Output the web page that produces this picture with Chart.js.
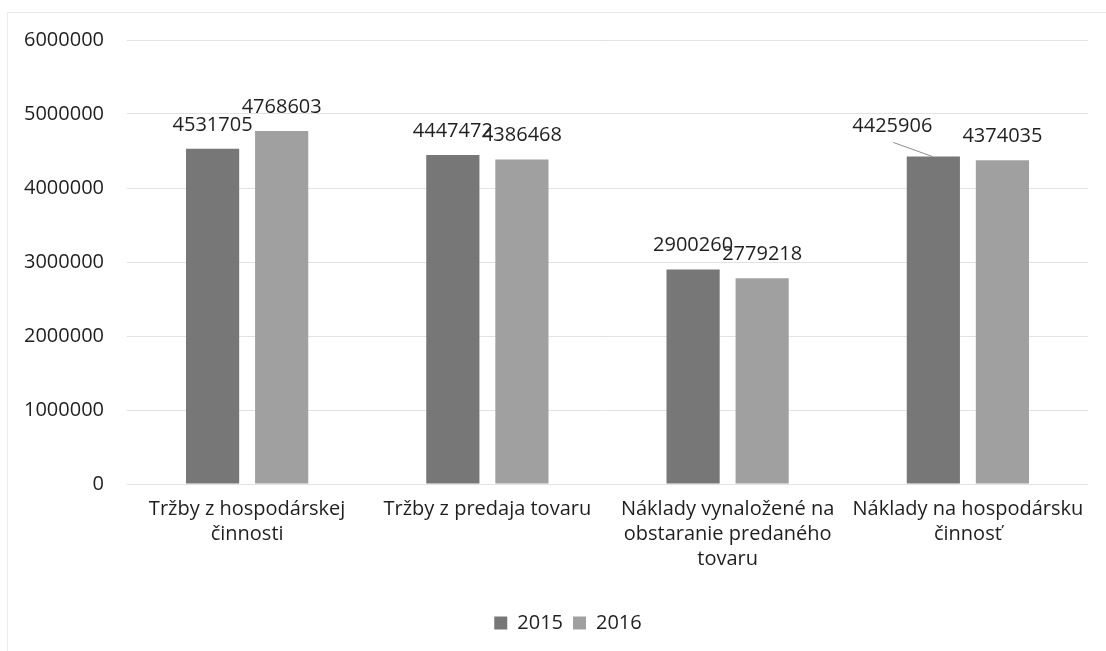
<!DOCTYPE html>
<html lang="sk">
<head>
<meta charset="UTF-8">
<title>Tržby a náklady 2015 - 2016</title>
<script src="https://cdn.jsdelivr.net/npm/chart.js@4.4.1/dist/chart.umd.min.js"></script>
<style>
    body { margin: 0; background: #fff; }
    .wrap { position: relative; width: 1106px; height: 651px; overflow: hidden; }
    .frame {
        position: absolute; left: 7px; top: 12px; right: -2px; bottom: -2px;
        border-left: 1px solid #ececec; border-top: 1px solid #e6e6e6;
        pointer-events: none;
    }
    canvas { position: absolute; left: 0; top: 0; }
</style>
</head>
<body>
<div class="wrap">
    <canvas id="costChart" width="1106" height="651"></canvas>
    <div class="frame"></div>
</div>
<script>
// Chart data
const categories = [
    ['Tržby z hospodárskej', 'činnosti'],
    'Tržby z predaja tovaru',
    ['Náklady vynaložené na', 'obstaranie predaného', 'tovaru'],
    ['Náklady na hospodársku', 'činnosť']
];
const seriesNames = ['2015', '2016'];
const values2015 = [4531705, 4447472, 2900260, 4425906];
const values2016 = [4768603, 4386468, 2779218, 4374035];
const yTicks = [0, 1000000, 2000000, 3000000, 4000000, 5000000, 6000000];

const FONT = '"Open Sans", "Noto Sans", sans-serif';
const TEXT_COLOR = '#1f1f1f';

// Value labels above bars (one label is pulled aside with a leader line, like in Excel)
const valueLabels = {
    id: 'valueLabels',
    afterDatasetsDraw(chart, args, opts) {
        const ctx = chart.ctx;
        ctx.save();
        ctx.font = '20px ' + FONT;
        ctx.fillStyle = TEXT_COLOR;
        ctx.textAlign = 'center';
        ctx.textBaseline = 'alphabetic';
        chart.data.datasets.forEach((ds, di) => {
            chart.getDatasetMeta(di).data.forEach((bar, i) => {
                let x = bar.x;
                let y = bar.y - opts.gap;
                const moved = opts.moved.find(m => m.dataset === di && m.index === i);
                if (moved) {
                    x += moved.dx;
                    y += moved.dy;
                    ctx.strokeStyle = '#8c8c8c';
                    ctx.lineWidth = 1;
                    ctx.beginPath();
                    ctx.moveTo(x + 1, y + 10);
                    ctx.lineTo(bar.x - 1, bar.y);
                    ctx.stroke();
                }
                ctx.fillText(String(ds.data[i]), x, y);
            });
        });
        ctx.restore();
    }
};

// The legend sits a bit right of the canvas centre in the original
const legendShift = {
    id: 'legendShift',
    afterLayout(chart, args, opts) {
        if (chart.legend) {
            chart.legend.left += opts.dx;
            chart.legend.right += opts.dx;
        }
    }
};

const ctx = document.getElementById('costChart').getContext('2d');

new Chart(ctx, {
    type: 'bar',
    data: {
        labels: categories,
        datasets: [
            {
                label: seriesNames[0],
                data: values2015,
                backgroundColor: '#777777'
            },
            {
                label: seriesNames[1],
                data: values2016,
                backgroundColor: '#a0a0a0'
            }
        ]
    },
    options: {
        responsive: false,
        animation: false,
        devicePixelRatio: 1,
        datasets: {
            bar: {
                categoryPercentage: 0.575,
                barPercentage: 0.77
            }
        },
        layout: {
            padding: { left: 0, right: 18, top: 40, bottom: 8 }
        },
        scales: {
            x: {
                grid: { display: false },
                border: { display: false },
                ticks: {
                    color: TEXT_COLOR,
                    font: { family: FONT, size: 20, lineHeight: 1.25 },
                    padding: 5,
                    maxRotation: 0,
                    autoSkip: false
                },
                afterFit: function(scale) {
                    scale.height = 119;
                }
            },
            y: {
                min: yTicks[0],
                max: yTicks[yTicks.length - 1],
                afterBuildTicks: function(scale) {
                    scale.ticks = yTicks.map(v => ({ value: v }));
                },
                grid: { color: '#e2e2e2', drawTicks: false },
                border: { display: false },
                ticks: {
                    color: TEXT_COLOR,
                    font: { family: FONT, size: 20 },
                    padding: 23,
                    callback: function(value) {
                        return String(value);
                    }
                },
                afterFit: function(scale) {
                    scale.width = 127;
                }
            }
        },
        plugins: {
            legend: {
                position: 'bottom',
                labels: {
                    color: TEXT_COLOR,
                    font: { family: FONT, size: 20 },
                    boxWidth: 13,
                    boxHeight: 13,
                    padding: 10
                }
            },
            tooltip: { enabled: false },
            valueLabels: {
                gap: 18,
                moved: [{ dataset: 0, index: 3, dx: -41, dy: -6 }]
            },
            legendShift: { dx: 24 }
        }
    },
    plugins: [valueLabels, legendShift]
});
</script>
</body>
</html>
